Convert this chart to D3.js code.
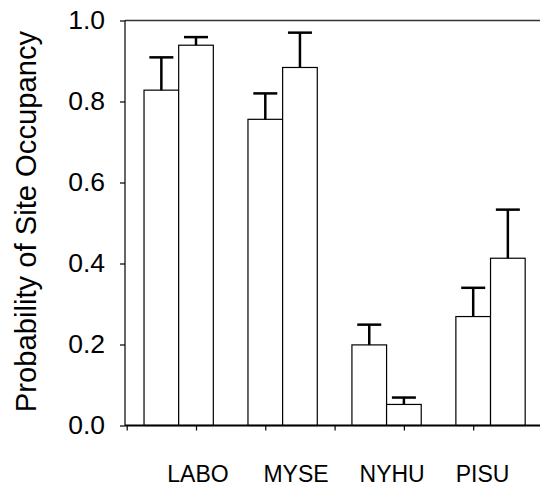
<!DOCTYPE html>
<html><head><meta charset="utf-8">
<script src="https://cdn.jsdelivr.net/npm/d3@7"></script>
<style>body{margin:0;background:#fff}svg{display:block}text{font-family:"Liberation Sans",Arial,sans-serif;fill:#000}</style>
</head><body>
<script>
const categories = ["LABO", "MYSE", "NYHU", "PISU"];
const series = ["s1", "s2"];
const values1 = [0.828, 0.756, 0.199, 0.269];
const values2 = [0.939, 0.884, 0.052, 0.413];
const errors1 = [0.081, 0.064, 0.050, 0.071];
const errors2 = [0.020, 0.086, 0.017, 0.120];
const yTicks = [0.0, 0.2, 0.4, 0.6, 0.8, 1.0];
const xTicks = [0, 1, 2, 3, 4, 5, 6];

const W = 540, H = 490;
const svg = d3.select("body").append("svg").attr("width", W).attr("height", H);

const x = d3.scaleLinear().domain([0, 6]).range([126.7, 542.5]);
const y = d3.scaleLinear().domain([0, 1]).range([425.5, 20.5]);
const band = d3.scaleBand().domain(categories).range([x(0), x(6)]).paddingInner(1/3).paddingOuter(1/6);
const sub = d3.scaleBand().domain(series).range([0, band.bandwidth()]);
const labelX = d3.scalePoint().domain(categories).range([167.3, 455.7]);

// top frame line
svg.append("line").attr("x1", 125).attr("x2", 545).attr("y1", y(1)).attr("y2", y(1))
  .attr("stroke", "#333").attr("stroke-width", 1.3);

// bars
const data = [];
categories.forEach((c, i) => {
  data.push({c, s: "s1", v: values1[i], e: errors1[i]});
  data.push({c, s: "s2", v: values2[i], e: errors2[i]});
});
const g = svg.append("g");
g.selectAll("rect").data(data).join("rect")
  .attr("x", d => band(d.c) + sub(d.s))
  .attr("width", sub.bandwidth())
  .attr("y", d => y(d.v))
  .attr("height", d => y(0) - y(d.v))
  .attr("fill", "#fff").attr("stroke", "#000").attr("stroke-width", 1.2);

// error bars
const capW = 24;
const eb = g.selectAll("g.eb").data(data).join("g").attr("class", "eb");
eb.append("line")
  .attr("x1", d => band(d.c) + sub(d.s) + sub.bandwidth()/2)
  .attr("x2", d => band(d.c) + sub(d.s) + sub.bandwidth()/2)
  .attr("y1", d => y(d.v)).attr("y2", d => y(d.v + d.e))
  .attr("stroke", "#000").attr("stroke-width", 2.5);
eb.append("line")
  .attr("x1", d => band(d.c) + sub(d.s) + sub.bandwidth()/2 - capW/2)
  .attr("x2", d => band(d.c) + sub(d.s) + sub.bandwidth()/2 + capW/2)
  .attr("y1", d => y(d.v + d.e)).attr("y2", d => y(d.v + d.e))
  .attr("stroke", "#000").attr("stroke-width", 2.5);

// y axis
const yAxis = svg.append("g").attr("transform", "translate(125,0)")
  .call(d3.axisLeft(y).tickValues(yTicks).tickFormat(d3.format(".1f")).tickSize(5).tickPadding(15));
yAxis.select(".domain").attr("stroke", "#000").attr("stroke-width", 1.2).attr("d", `M0,${y(1)}V${y(0)}`);
yAxis.selectAll(".tick line").attr("stroke", "#000").attr("stroke-width", 1.2);
yAxis.selectAll(".tick text").attr("font-size", 26.5).attr("font-family", "Liberation Sans, Arial, sans-serif").attr("fill", "#000");

// x axis
const xAxis = svg.append("g").attr("transform", `translate(0,${y(0)})`)
  .call(d3.axisBottom(x).tickValues(xTicks).tickFormat("").tickSize(5));
xAxis.select(".domain").attr("stroke", "#000").attr("stroke-width", 2.2).attr("d", `M125,0H545`);
xAxis.selectAll(".tick line").attr("stroke", "#000").attr("stroke-width", 1.2);

// category labels
svg.append("g").selectAll("text").data(categories).join("text")
  .attr("x", d => labelX(d)).attr("y", 481.7)
  .attr("font-size", 23).attr("text-anchor", "start").text(d => d);

// y label
svg.append("text").attr("transform", "translate(36,221.5) rotate(-90)")
  .attr("text-anchor", "middle").attr("font-size", 29.2).text("Probability of Site Occupancy");
</script>
</body></html>
